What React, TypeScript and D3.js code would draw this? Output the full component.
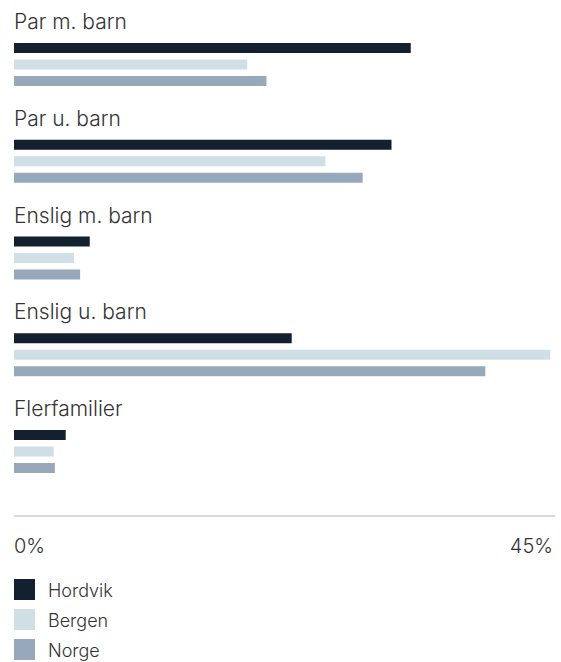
import React from "react";
import * as d3 from "d3";

const categories = ["Par m. barn", "Par u. barn", "Enslig m. barn", "Enslig u. barn", "Flerfamilier"];
const seriesNames = ["Hordvik", "Bergen", "Norge"];
const hordvik = [33.0, 31.4, 6.3, 23.1, 4.3];
const bergen = [19.4, 25.9, 5.0, 44.6, 3.3];
const norge = [21.0, 29.0, 5.5, 39.2, 3.4];
const seriesValues = [hordvik, bergen, norge];
const colors = ["#12202f", "#d0dfe6", "#97a8ba"];
const axisMax = 45;
const tickLabels = ["0%", "45%"];

const W = 561;
const H = 662;
const FONT = "Inter, 'Helvetica Neue', Arial, sans-serif";

export default function App() {
  const x = d3.scaleLinear().domain([0, axisMax]).range([14, 555]);
  const groupY = d3.scaleBand<string>().domain(categories).range([0, 96.75 * 5]).padding(0);
  const barY = d3.scaleBand<string>().domain(seriesNames).range([43, 43 + 16.5 * 2 + 10]).paddingInner(6.5 / 16.5).paddingOuter(0);
  const bh = barY.bandwidth();

  return (
    <svg width={W} height={H} style={{ position: "absolute", left: 0, top: 0, background: "#fff" }}>
      {categories.map((c, i) => {
        const gy = groupY(c) as number;
        return (
          <g key={c} transform={`translate(0,${gy})`}>
            <text x={14} y={29} fontFamily={FONT} fontWeight={300} fontSize={21} fill="#333">{c}</text>
            {seriesNames.map((s, j) => (
              <rect key={s} x={x(0)} y={barY(s) as number} width={x(seriesValues[j][i]) - x(0)} height={bh} fill={colors[j]} />
            ))}
          </g>
        );
      })}
      <line x1={x(0)} x2={x(axisMax)} y1={516} y2={516} stroke="#cccccc" strokeWidth={1.5} />
      <text x={x(0)} y={553} fontFamily={FONT} fontWeight={300} fontSize={20} fill="#333">{tickLabels[0]}</text>
      <text x={553} y={553} textAnchor="end" fontFamily={FONT} fontWeight={300} fontSize={20} fill="#333">{tickLabels[1]}</text>
      {seriesNames.map((s, j) => (
        <g key={s} transform={`translate(14,${579 + j * 30})`}>
          <rect x={0} y={0} width={21} height={21} fill={colors[j]} />
          <text x={34} y={17.5} fontFamily={FONT} fontWeight={300} fontSize={18} fill="#333">{s}</text>
        </g>
      ))}
    </svg>
  );
}
